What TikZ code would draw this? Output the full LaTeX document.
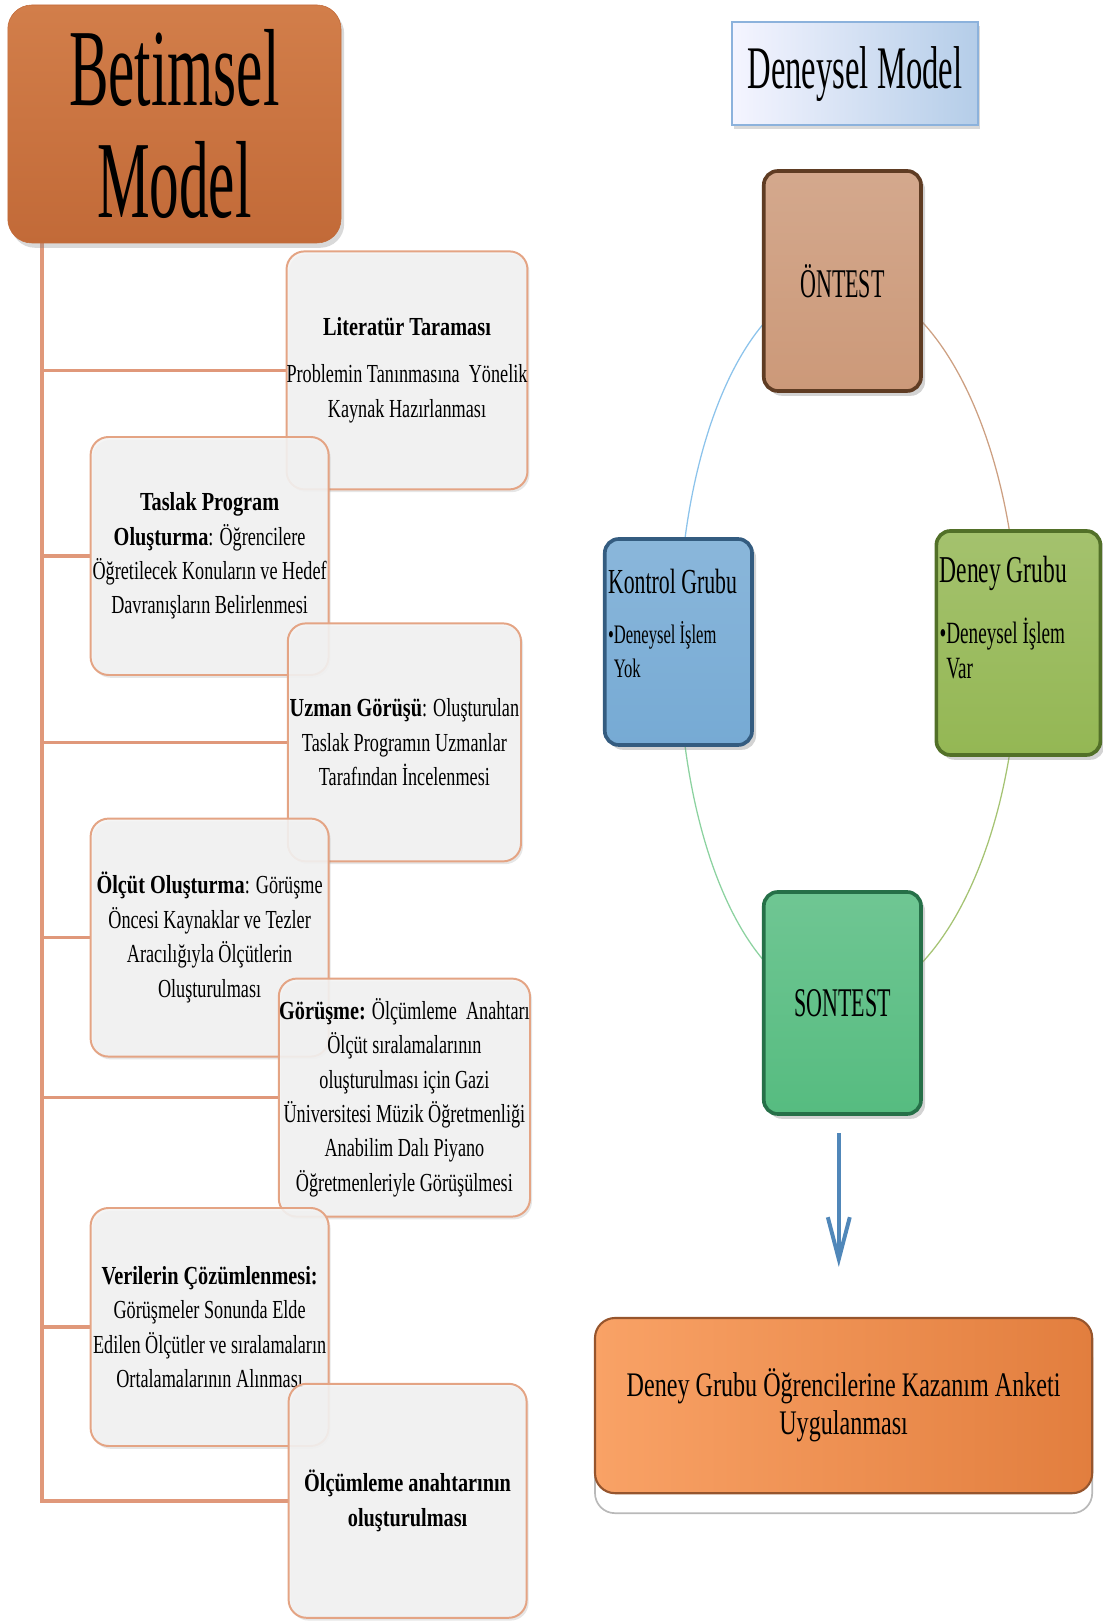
\documentclass[tikz,border=0pt]{standalone}
\usepackage{fontspec}
\setmainfont[FakeStretch=0.7,BoldFeatures={FakeStretch=0.78}]{Liberation Serif}
\newfontfamily\darfont[FakeStretch=0.54]{Liberation Serif}
\newfontfamily\ortafont[FakeStretch=0.62]{Liberation Serif}
\usetikzlibrary{positioning,shadows,arrows.meta}
\pgfdeclarelayer{arka}
\pgfsetlayers{arka,main}

\definecolor{dalrengi}{RGB}{224,152,122}
\definecolor{kutukenar}{RGB}{228,164,132}
\definecolor{anaust}{RGB}{210,126,74}
\definecolor{anaalt}{RGB}{194,106,56}
\definecolor{baslikkenar}{RGB}{140,178,220}
\definecolor{ontestr}{RGB}{204,153,121}
\definecolor{ontestk}{RGB}{95,60,35}
\definecolor{kontrolr}{RGB}{118,170,212}
\definecolor{kontrolk}{RGB}{52,92,128}
\definecolor{deneyr}{RGB}{148,183,84}
\definecolor{deneyk}{RGB}{82,112,40}
\definecolor{sontestr}{RGB}{86,188,128}
\definecolor{sontestk}{RGB}{38,112,72}
\definecolor{anketsol}{RGB}{249,162,102}
\definecolor{anketsag}{RGB}{226,126,62}
\definecolor{anketk}{RGB}{150,85,45}
\definecolor{okrengi}{RGB}{80,135,185}
\definecolor{yaymavi}{RGB}{140,195,235}
\definecolor{yaykahve}{RGB}{205,160,130}
\definecolor{yayyesil}{RGB}{140,210,160}
\definecolor{yayzeytin}{RGB}{165,195,115}

\tikzset{
  adim/.style={draw=kutukenar,line width=1.4pt,rounded corners=0.45cm,fill=gray!9,
    fill opacity=0.88,text opacity=1,minimum width=5.95cm,minimum height=5.95cm,
    align=center,inner sep=0pt,font=\fontsize{18.5}{24.5}\selectfont,
    drop shadow={opacity=0.2,shadow xshift=0.05cm,shadow yshift=-0.07cm}},
  dal/.style={draw=dalrengi,line width=2.6pt},
  grup/.style 2 args={draw=#2,line width=2.6pt,rounded corners=0.35cm,
    top color=#1!85!white,bottom color=#1,
    drop shadow={opacity=0.35,shadow xshift=0.1cm,shadow yshift=-0.12cm}},
  grupyazi/.style={anchor=north west,inner sep=0pt,align=left,
    font=\ortafont\fontsize{19}{24}\selectfont},
  yay/.style={draw=#1,line width=0.9pt}
}

\begin{document}
\begin{tikzpicture}[x=1cm,y=1cm]
\useasboundingbox (0,0) rectangle (27.575,40.55);

% betimsel model
\node[rounded corners=0.6cm,top color=anaust,bottom color=anaalt,draw=anaalt,
  minimum width=8.33cm,minimum height=5.95cm,align=center,
  font=\darfont\fontsize{78}{80}\selectfont,
  drop shadow={opacity=0.3,shadow xshift=0.08cm,shadow yshift=-0.12cm}]
  (betimsel) at (4.36,37.45) {Betimsel\\Model};
\coordinate (kok) at ([xshift=0.855cm]betimsel.south west);

\node[adim] (lit) at (10.175,31.29) {{\bfseries Literatür Taraması}\\[9pt]Problemin Tanınmasına\ \ Yönelik\\Kaynak Hazırlanması};
\node[adim] (taslak) at (5.24,26.65) {{\bfseries Taslak Program}\\{\bfseries Oluşturma}: Öğrencilere\\Öğretilecek Konuların ve Hedef\\Davranışların Belirlenmesi};
\node[adim,minimum width=5.83cm] (uzman) at (10.11,21.99) {{\bfseries Uzman Görüşü}: Oluşturulan\\Taslak Programın Uzmanlar\\Tarafından İncelenmesi};
\node[adim] (olcut) at (5.24,17.11) {{\bfseries Ölçüt Oluşturma}: Görüşme\\Öncesi Kaynaklar ve Tezler\\Aracılığıyla Ölçütlerin\\Oluşturulması};
\node[adim,minimum width=6.28cm] (gorusme) at (10.11,13.11) {{\bfseries Görüşme:} Ölçümleme\ \ Anahtarı\\Ölçüt sıralamalarının\\oluşturulması için Gazi\\Üniversitesi Müzik Öğretmenliği\\Anabilim Dalı Piyano\\Öğretmenleriyle Görüşülmesi};
\node[adim] (cozum) at (5.24,7.375) {{\bfseries Verilerin Çözümlenmesi:}\\Görüşmeler Sonunda Elde\\Edilen Ölçütler ve sıralamaların\\Ortalamalarının Alınması};
\node[adim,minimum height=5.85cm] (anahtar) at (10.19,3.03) {{\bfseries Ölçümleme anahtarının}\\{\bfseries oluşturulması}};

% deneysel model
\node[rectangle,left color=blue!4!white,right color=baslikkenar!65!white,draw=baslikkenar,
  line width=1pt,minimum width=6.15cm,minimum height=2.58cm,
  font=\darfont\fontsize{43}{48}\selectfont,
  drop shadow={opacity=0.3,shadow xshift=0.06cm,shadow yshift=-0.1cm}]
  (deneysel) at (21.375,38.71) {Deneysel Model};

\node[grup={ontestr}{ontestk},minimum width=3.93cm,minimum height=5.5cm,
  font=\darfont\fontsize{29}{34}\selectfont] (ontest) at (21.06,33.525) {ÖNTEST};
\node[grup={kontrolr}{kontrolk},minimum width=3.68cm,minimum height=5.15cm] (kontrol) at (16.96,24.5) {};
\node[grupyazi] (kontrolyazi) at ([shift={(0.12,-0.78)}]kontrol.north west)
  {{\fontsize{25}{30}\selectfont Kontrol Grubu}\\[12pt]•Deneysel İşlem\\\phantom{•}Yok};
\node[grup={deneyr}{deneyk},minimum width=4.1cm,minimum height=5.6cm] (deney) at (25.46,24.475) {};
\node[grupyazi,font=\ortafont\fontsize{22}{25}\selectfont] (deneyyazi) at ([shift={(0.12,-0.68)}]deney.north west)
  {{\fontsize{27}{30}\selectfont Deney Grubu}\\[18pt]•Deneysel İşlem\\\phantom{•}Var};
\node[grup={sontestr}{sontestk},minimum width=3.93cm,minimum height=5.55cm,
  font=\darfont\fontsize{29}{34}\selectfont] (sontest) at (21.06,15.475) {SONTEST};

\node[rounded corners=0.5cm,left color=anketsol,right color=anketsag,draw=anketk,
  line width=1.5pt,minimum width=12.43cm,minimum height=4.38cm,align=center,
  font=\fontsize{24.5}{27}\selectfont,
  copy shadow={shadow xshift=0cm,shadow yshift=-0.5cm,fill=white,draw=gray!55,line width=1.2pt}]
  (anket) at (21.09,5.41) {Deney Grubu Öğrencilerine Kazanım Anketi\\Uygulanması};

\draw[draw=okrengi,line width=2.8pt,shorten <=0.43cm,shorten >=1.25cm,
  -{Straight Barb[length=1.05cm,width=0.55cm]}]
  ([xshift=-0.09cm]sontest.south) -- ([xshift=-0.09cm]sontest.south |- anket.north);

\begin{pgfonlayer}{arka}
\foreach \n in {lit,taslak,uzman,olcut,gorusme,cozum,anahtar}
  \draw[dal] (kok) |- (\n.west);
\draw[yay=yaykahve] (ontest.center) to[out=0,in=90,out distance=2.35cm,in distance=4.97cm] (deney.center);
\draw[yay=yaymavi] (kontrol.center) to[out=90,in=180,out distance=4.97cm,in distance=2.35cm] (ontest.center);
\draw[yay=yayyesil] (kontrol.center) to[out=-90,in=180,out distance=4.97cm,in distance=2.35cm] (sontest.center);
\draw[yay=yayzeytin] (deney.center) to[out=-90,in=0,out distance=4.97cm,in distance=2.35cm] (sontest.center);
\end{pgfonlayer}
\end{tikzpicture}
\end{document}
